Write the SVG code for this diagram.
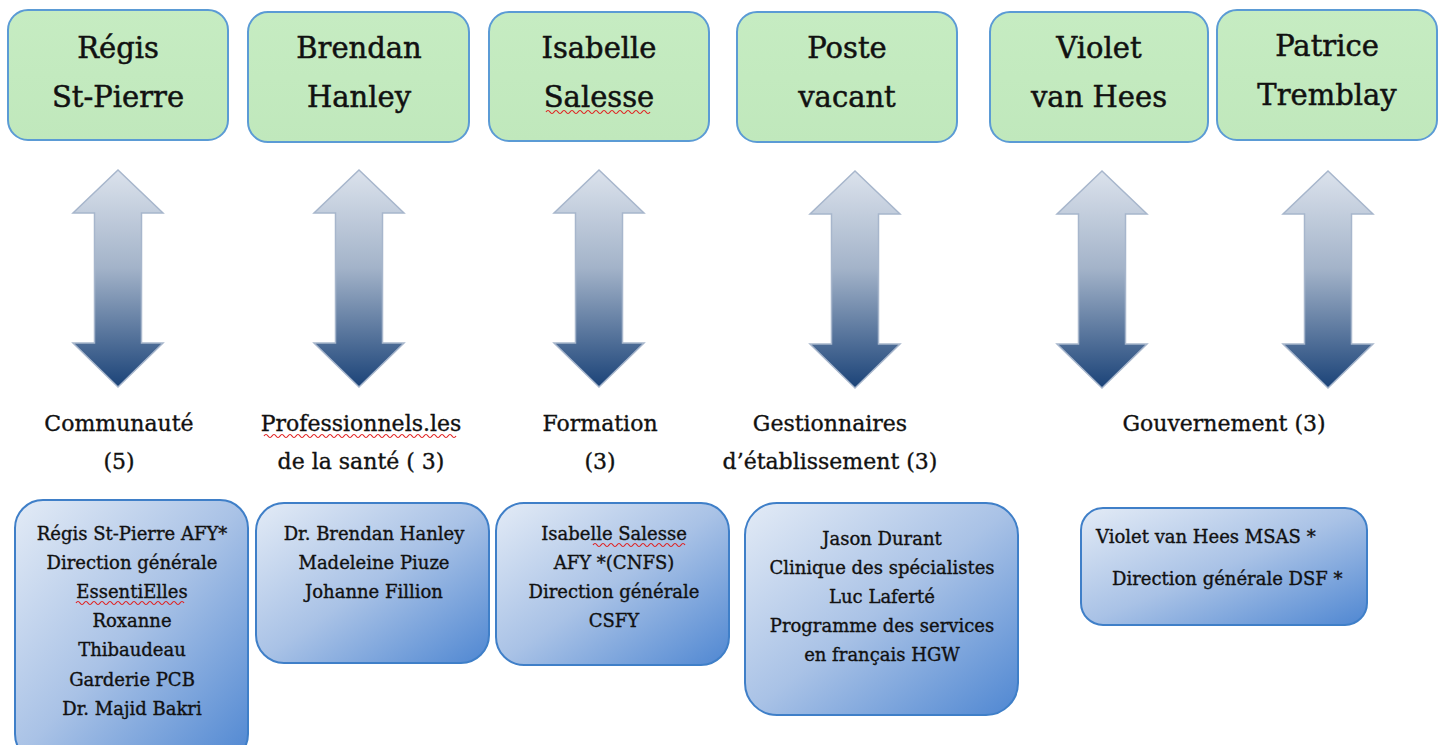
<svg xmlns="http://www.w3.org/2000/svg" width="1444" height="745" viewBox="0 0 1444 745">
<defs>
<linearGradient id="gTop" x1="0" y1="0" x2="0" y2="1"><stop offset="0" stop-color="#c6ecc2"/><stop offset="1" stop-color="#c0e8bc"/></linearGradient>
<linearGradient id="gBox" x1="0" y1="0" x2="1" y2="1"><stop offset="0" stop-color="#e3ebf6"/><stop offset="0.5" stop-color="#a9c2e6"/><stop offset="1" stop-color="#4f87d2"/></linearGradient>
<linearGradient id="gArrow" x1="0" y1="0" x2="0" y2="1"><stop offset="0" stop-color="#dbe2ec"/><stop offset="0.45" stop-color="#a3b3c9"/><stop offset="1" stop-color="#1b4378"/></linearGradient>
<path id="arr" d="M0,0 L45,43 L23.5,43 L23.5,173 L45,173 L0,217 L-45,173 L-23.5,173 L-23.5,43 L-45,43 Z"/>
</defs>
<style>
.top{fill:url(#gTop);stroke:#5b9bd5;stroke-width:2}
.box{fill:url(#gBox);stroke:#3f7fc8;stroke-width:2}
.t{font-family:"DejaVu Serif","Liberation Serif",serif;fill:#111;stroke:#111;stroke-width:0.35;text-anchor:middle}
.tn{font-size:29px;stroke-width:0.5}
.tc{font-size:22px}
.tb{font-size:18px}
.arrow{fill:url(#gArrow);stroke:#a7b6cc;stroke-width:1.5}
.wave{fill:none;stroke:#e02020;stroke-width:1.2}
</style>
<rect width="1444" height="745" fill="#ffffff"/>

<g id="top-regis"><rect class="top" x="8" y="10" width="220" height="130" rx="20"/><text class="t tn" x="118" y="58">Régis</text><text class="t tn" x="118" y="107">St-Pierre</text></g>
<g id="top-brendan"><rect class="top" x="248" y="12" width="221" height="130" rx="20"/><text class="t tn" x="359" y="58">Brendan</text><text class="t tn" x="359" y="107">Hanley</text></g>
<g id="top-isabelle"><rect class="top" x="489" y="12" width="220" height="129" rx="20"/><text class="t tn" x="599" y="58">Isabelle</text><text class="t tn" x="599" y="107">Salesse</text><path class="wave" d="M546,112 q2,-3 4,0 t4,0 t4,0 t4,0 t4,0 t4,0 t4,0 t4,0 t4,0 t4,0 t4,0 t4,0 t4,0 t4,0 t4,0 t4,0 t4,0 t4,0 t4,0 t4,0 t4,0 t4,0 t4,0 t4,0 t4,0 t4,0"/></g>
<g id="top-poste"><rect class="top" x="737" y="12" width="220" height="130" rx="20"/><text class="t tn" x="847" y="58">Poste</text><text class="t tn" x="847" y="107">vacant</text></g>
<g id="top-violet"><rect class="top" x="990" y="12" width="218" height="130" rx="20"/><text class="t tn" x="1099" y="58">Violet</text><text class="t tn" x="1099" y="107">van Hees</text></g>
<g id="top-patrice"><rect class="top" x="1217" y="10" width="220" height="130" rx="20"/><text class="t tn" x="1327" y="56">Patrice</text><text class="t tn" x="1327" y="105">Tremblay</text></g>

<g id="connectors">
<use href="#arr" class="arrow" x="118" y="170"/>
<use href="#arr" class="arrow" x="359" y="170"/>
<use href="#arr" class="arrow" x="599" y="170"/>
<use href="#arr" class="arrow" x="855" y="171"/>
<use href="#arr" class="arrow" x="1102" y="171"/>
<use href="#arr" class="arrow" x="1328" y="171"/>
</g>

<g id="cat-communaute"><text class="t tc" x="119" y="431">Communauté</text><text class="t tc" x="119" y="469">(5)</text></g>
<g id="cat-professionnels"><text class="t tc" x="361" y="431">Professionnels.les</text><text class="t tc" x="361" y="469">de la santé ( 3)</text><path class="wave" d="M264,436 q2,-3 4,0 t4,0 t4,0 t4,0 t4,0 t4,0 t4,0 t4,0 t4,0 t4,0 t4,0 t4,0 t4,0 t4,0 t4,0 t4,0 t4,0 t4,0 t4,0 t4,0 t4,0 t4,0 t4,0 t4,0 t4,0 t4,0 t4,0 t4,0 t4,0 t4,0 t4,0 t4,0 t4,0 t4,0 t4,0 t4,0 t4,0 t4,0 t4,0 t4,0 t4,0 t4,0 t4,0 t4,0 t4,0 t4,0 t4,0 t4,0"/></g>
<g id="cat-formation"><text class="t tc" x="600" y="431">Formation</text><text class="t tc" x="600" y="469">(3)</text></g>
<g id="cat-gestionnaires"><text class="t tc" x="830" y="431">Gestionnaires</text><text class="t tc" x="830" y="469">d’établissement (3)</text></g>
<g id="cat-gouvernement"><text class="t tc" x="1224" y="431">Gouvernement (3)</text></g>

<g id="box-communaute"><rect class="box" x="15" y="500" width="233" height="262" rx="28"/>
<text class="t tb" x="132" y="540">Régis St-Pierre AFY*</text>
<text class="t tb" x="132" y="569">Direction générale</text>
<text class="t tb" x="132" y="598">EssentiElles</text>
<path class="wave" d="M76,603 q2,-3 4,0 t4,0 t4,0 t4,0 t4,0 t4,0 t4,0 t4,0 t4,0 t4,0 t4,0 t4,0 t4,0 t4,0 t4,0 t4,0 t4,0 t4,0 t4,0 t4,0 t4,0 t4,0 t4,0 t4,0 t4,0 t4,0 t4,0"/>
<text class="t tb" x="132" y="627">Roxanne</text>
<text class="t tb" x="132" y="656">Thibaudeau</text>
<text class="t tb" x="132" y="686">Garderie PCB</text>
<text class="t tb" x="132" y="715">Dr. Majid Bakri</text></g>

<g id="box-professionnels"><rect class="box" x="256" y="503" width="233" height="160" rx="28"/>
<text class="t tb" x="374" y="540">Dr. Brendan Hanley</text>
<text class="t tb" x="374" y="569">Madeleine Piuze</text>
<text class="t tb" x="374" y="598">Johanne Fillion</text></g>

<g id="box-formation"><rect class="box" x="496" y="503" width="233" height="162" rx="28"/>
<text class="t tb" x="614" y="540">Isabelle Salesse</text>
<path class="wave" d="M593,545 q2,-3 4,0 t4,0 t4,0 t4,0 t4,0 t4,0 t4,0 t4,0 t4,0 t4,0 t4,0 t4,0 t4,0 t4,0 t4,0 t4,0 t4,0 t4,0 t4,0 t4,0 t4,0 t4,0 t4,0"/>
<text class="t tb" x="614" y="569">AFY *(CNFS)</text>
<text class="t tb" x="614" y="598">Direction générale</text>
<text class="t tb" x="614" y="627">CSFY</text></g>

<g id="box-gestionnaires"><rect class="box" x="745" y="503" width="273" height="212" rx="32"/>
<text class="t tb" x="882" y="545">Jason Durant</text>
<text class="t tb" x="882" y="574">Clinique des spécialistes</text>
<text class="t tb" x="882" y="603">Luc Laferté</text>
<text class="t tb" x="882" y="632">Programme des services</text>
<text class="t tb" x="882" y="661">en français HGW</text></g>

<g id="box-gouvernement"><rect class="box" x="1081" y="508" width="286" height="117" rx="22"/>
<text class="t tb" x="1096" y="543" style="text-anchor:start">Violet van Hees MSAS *</text>
<text class="t tb" x="1112" y="585" style="text-anchor:start">Direction générale DSF *</text></g>
</svg>
